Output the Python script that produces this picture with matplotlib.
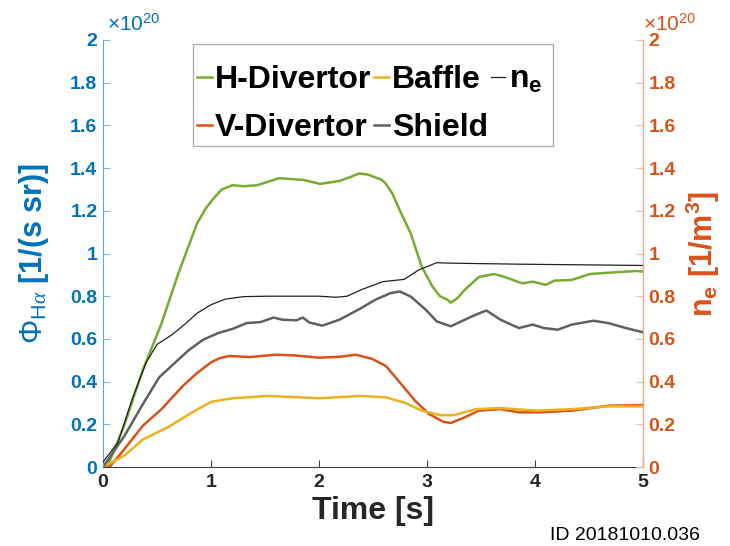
import matplotlib
matplotlib.use("Agg")
import matplotlib.pyplot as plt
from matplotlib.patches import Rectangle
import numpy as np

plt.rcParams['font.family'] = ['Liberation Sans', 'DejaVu Sans']
plt.rcParams['mathtext.fontset'] = 'custom'
plt.rcParams['mathtext.rm'] = 'Liberation Sans'
plt.rcParams['mathtext.bf'] = 'Liberation Sans:bold'
plt.rcParams['mathtext.it'] = 'Liberation Serif:italic'

# ---- data (units of 1e20) ----
t_hdiv = [0, 0.04, 0.2, 0.37, 0.54, 0.70, 0.87, 0.95, 1.02, 1.1, 1.2, 1.3, 1.43, 1.63, 1.86, 2.01,
          2.19, 2.3, 2.37, 2.45, 2.52, 2.58, 2.62, 2.68, 2.75, 2.85, 2.95, 3.05, 3.12, 3.19, 3.22,
          3.28, 3.35, 3.48, 3.62, 3.72, 3.88, 3.98, 4.1, 4.18, 4.34, 4.51, 4.68, 4.94, 5.0]
hdiv = [0, 0.0, 0.2, 0.457, 0.67, 0.91, 1.14, 1.21, 1.256, 1.30, 1.32, 1.315, 1.32, 1.353, 1.344,
        1.326, 1.34, 1.36, 1.375, 1.37, 1.357, 1.345, 1.326, 1.28, 1.2, 1.093, 0.94, 0.845, 0.80,
        0.783, 0.77, 0.79, 0.83, 0.89, 0.904, 0.89, 0.86, 0.868, 0.853, 0.873, 0.876, 0.904, 0.91,
        0.918, 0.915]

t_vdiv = [0, 0.06, 0.2, 0.37, 0.54, 0.74, 0.87, 1.0, 1.08, 1.17, 1.36, 1.6, 1.79, 2.0, 2.19, 2.34,
          2.49, 2.62, 2.75, 2.89, 3.02, 3.15, 3.22, 3.35, 3.48, 3.68, 3.85, 4.05, 4.34, 4.68, 5.0]
vdiv = [0, 0.0, 0.085, 0.194, 0.27, 0.38, 0.44, 0.49, 0.51, 0.52, 0.515, 0.526, 0.522, 0.512, 0.516,
        0.526, 0.507, 0.473, 0.395, 0.31, 0.248, 0.212, 0.206, 0.233, 0.264, 0.271, 0.256, 0.256,
        0.264, 0.287, 0.29]

t_baffle = [0, 0.2, 0.37, 0.6, 0.8, 1.0, 1.2, 1.53, 2.0, 2.39, 2.62, 2.79, 2.95, 3.12, 3.25,
            3.45, 3.68, 4.01, 4.34, 4.68, 5.0]
baffle = [0, 0.054, 0.129, 0.186, 0.248, 0.305, 0.322, 0.333, 0.322, 0.333, 0.326, 0.302, 0.264,
          0.243, 0.243, 0.271, 0.276, 0.264, 0.271, 0.284, 0.284]

t_shield = [0, 0.2, 0.37, 0.52, 0.67, 0.8, 0.93, 1.07, 1.2, 1.33, 1.46, 1.58, 1.66, 1.79, 1.85,
            1.91, 2.03, 2.19, 2.39, 2.52, 2.66, 2.75, 2.85, 2.99, 3.09, 3.22, 3.35, 3.45, 3.55,
            3.68, 3.85, 3.98, 4.08, 4.21, 4.34, 4.54, 4.68, 4.84, 5.0]
shield = [0, 0.147, 0.295, 0.42, 0.49, 0.55, 0.597, 0.628, 0.647, 0.674, 0.679, 0.70, 0.69, 0.687,
          0.70, 0.677, 0.662, 0.69, 0.744, 0.783, 0.814, 0.822, 0.798, 0.736, 0.682, 0.659, 0.69,
          0.713, 0.733, 0.69, 0.651, 0.667, 0.651, 0.643, 0.667, 0.685, 0.674, 0.651, 0.631]

t_ne = [0, 0.14, 0.27, 0.4, 0.5, 0.64, 0.77, 0.87, 1.0, 1.13, 1.3, 1.53, 2.0, 2.16, 2.26, 2.39,
        2.59, 2.79, 2.92, 3.09, 3.19, 3.85, 5.0]
ne = [0.023, 0.116, 0.318, 0.49, 0.574, 0.62, 0.674, 0.72, 0.76, 0.786, 0.798, 0.80, 0.80, 0.795,
      0.80, 0.83, 0.868, 0.879, 0.922, 0.957, 0.955, 0.95, 0.944]

yticks = [0, 0.2, 0.4, 0.6, 0.8, 1, 1.2, 1.4, 1.6, 1.8, 2]
ytick_labels = ['0', '0.2', '0.4', '0.6', '0.8', '1', '1.2', '1.4', '1.6', '1.8', '2']
xticks = [0, 1, 2, 3, 4, 5]
legend_labels = ['H-Divertor', 'V-Divertor', 'Baffle', 'Shield', r'$\mathbf{n_e}$']

BLUE = '#0072BD'
ORANGE = '#D95319'
GREEN = '#77AC30'
YELLOW = '#EDB120'
GRAY = '#606060'

W, H = 730, 546
fig = plt.figure(figsize=(7.3, 5.46), dpi=100)
ax = fig.add_axes([103/W, 1-467/H, 540/W, 427/H])
ax2 = ax.twinx()

LW = 1.8
l1, = ax.plot(t_hdiv, hdiv, color=GREEN, lw=LW)
l2, = ax.plot(t_vdiv, vdiv, color=ORANGE, lw=LW)
l3, = ax.plot(t_baffle, baffle, color=YELLOW, lw=LW)
l4, = ax.plot(t_shield, shield, color=GRAY, lw=LW)
l5, = ax2.plot(t_ne, ne, color='#202020', lw=0.9)

for a in (ax, ax2):
    a.set_xlim(0, 5)
    a.set_ylim(0, 2)
    a.spines['top'].set_visible(False)

ax.set_xticks(xticks)
ax.set_xticklabels([str(x) for x in xticks], fontsize=14, fontweight='bold', color='#262626')
ax.set_yticks(yticks)
ax.set_yticklabels(ytick_labels, fontsize=14, fontweight='bold', color=BLUE)
ax2.set_yticks(yticks)
ax2.set_yticklabels(ytick_labels, fontsize=14, fontweight='bold', color=ORANGE)

ax.tick_params(axis='x', direction='in', length=5, color='#404040', pad=5)
ax.tick_params(axis='y', direction='in', length=5, color='#7DB8E0', pad=4)
ax2.tick_params(axis='y', direction='in', length=5, color='#F3B9A0', pad=4)

ax.spines['left'].set_color('#5AA8DC')
ax.spines['bottom'].set_color('#404040')
ax2.spines['right'].set_color('#F3A888')
ax2.spines['left'].set_visible(False)
ax2.spines['bottom'].set_visible(False)

ax.set_xlabel('Time [s]', fontsize=23, fontweight='bold', color='#262626', labelpad=4)
ax.set_ylabel(r'$\Phi_{\mathrm{H}\alpha}$ [1/(s sr)]', fontsize=22, fontweight='bold', color=BLUE, labelpad=14)
ax2.set_ylabel(r'$\mathbf{n_e}$ [1/m$\mathbf{^3}$]', fontsize=22, fontweight='bold', color=ORANGE, labelpad=6, rotation=90)

ax.text(0.008, 1.012, r'$\times$10$^{20}$', transform=ax.transAxes, fontsize=15, color=BLUE, ha='left', va='bottom')
ax2.text(1.0, 1.012, r'$\times$10$^{20}$', transform=ax2.transAxes, fontsize=15, color=ORANGE, ha='left', va='bottom')

fig.text(550/W, 1-535/H, 'ID 20181010.036', fontsize=14, color='black', ha='left', va='center')

# legend frame drawn separately (figure coords), inside ax2 so it stays under the legend
frame = Rectangle((193/W, 1-146/H), (553-193)/W, (146-44)/H, transform=fig.transFigure,
                  facecolor='white', edgecolor='#B0B0B0', lw=1.0, zorder=8, clip_on=False)
ax2.add_patch(frame)

leg = ax2.legend([l1, l2, l3, l4, l5], legend_labels,
                 ncol=3, loc='upper left', bbox_to_anchor=(194/W, 1-62/H), bbox_transform=fig.transFigure,
                 prop={'size': 23, 'weight': 'bold'}, handlelength=0.45, handletextpad=0.1,
                 columnspacing=0.1, labelspacing=0.55, borderpad=0.1, frameon=False,
                 borderaxespad=0)
leg.set_zorder(10)

fig.savefig('out.png', dpi=100)
